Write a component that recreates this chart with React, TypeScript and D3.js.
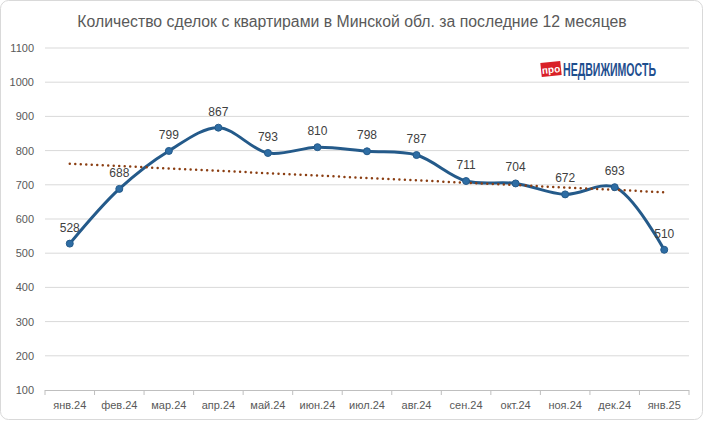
import * as d3 from "d3"

const months = [
  "янв.24", "фев.24", "мар.24", "апр.24", "май.24", "июн.24", "июл.24",
  "авг.24", "сен.24", "окт.24", "ноя.24", "дек.24", "янв.25",
]
const deals = [528, 688, 799, 867, 793, 810, 798, 787, 711, 704, 672, 693, 510]
const yTicks = [100, 200, 300, 400, 500, 600, 700, 800, 900, 1000, 1100]
const title = "Количество сделок с квартирами в Минской обл. за последние 12 месяцев"

const W = 704
const H = 421
const font = "'Liberation Sans', Arial, sans-serif"

export default function App() {
  const x = d3.scaleBand().domain(months).range([45, 689])
  const y = d3.scaleLinear().domain([100, 1100]).range([390, 48])
  const cx = (m: string) => x(m)! + x.bandwidth() / 2

  const pts: [number, number][] = deals.map((v, i) => [cx(months[i]), y(v)])
  const line = d3.line().curve(d3.curveCatmullRom.alpha(0.5))(pts)!

  // linear trend over the 13 points
  const n = deals.length
  const mx = (n + 1) / 2
  const my = d3.mean(deals)!
  const slope =
    d3.sum(deals, (v, i) => (i + 1 - mx) * (v - my)) /
    d3.sum(deals, (_, i) => (i + 1 - mx) ** 2)
  const tv = (i: number) => my + slope * (i + 1 - mx)

  return (
    <svg
      width={W}
      height={H}
      style={{ position: "absolute", left: 0, top: 0, background: "#fff" }}
    >
      <rect x={0.5} y={0.5} width={W - 2} height={H - 2} rx={8} fill="#fff" stroke="#d9d9d9" />

      <text x={352} y={27} textAnchor="middle" fontFamily={font} fontSize={15.8} fill="#595959">
        {title}
      </text>

      {/* logo */}
      <g transform="rotate(-6 551 69)">
        <rect x={541} y={62} width={20} height={14} fill="#d92027" />
        <text x={551} y={73} textAnchor="middle" fontFamily={font} fontSize={10} fontWeight={700} fill="#fff">
          про
        </text>
      </g>
      <g transform="translate(563 76) scale(1 1.25)">
        <text
          x={0}
          y={0}
          fontFamily="'Liberation Sans Narrow', 'Liberation Sans', sans-serif"
          fontSize={15}
          fontWeight={700}
          fill="#1f4f8f"
          textLength={93}
          lengthAdjust="spacingAndGlyphs"
        >
          НЕДВИЖИМОСТЬ
        </text>
      </g>

      {yTicks.map((t) => (
        <g key={t}>
          {t > 100 && <line x1={45} x2={689} y1={y(t)} y2={y(t)} stroke="#d9d9d9" />}
          <text x={34} y={y(t) + 4} textAnchor="end" fontFamily={font} fontSize={11} fill="#595959">
            {t}
          </text>
        </g>
      ))}

      <line x1={45} x2={689} y1={390.5} y2={390.5} stroke="#bfbfbf" />
      {months.map((m, i) => (
        <line key={"t" + m + i} x1={x(m)!} x2={x(m)!} y1={390} y2={395} stroke="#bfbfbf" />
      ))}
      <line x1={689} x2={689} y1={390} y2={395} stroke="#bfbfbf" />
      {months.map((m, i) => (
        <text key={"l" + i} x={cx(m)} y={409} textAnchor="middle" fontFamily={font} fontSize={11} fill="#595959">
          {m}
        </text>
      ))}

      <path d={line} fill="none" stroke="#245a8a" strokeWidth={3} strokeLinejoin="round" />

      <line
        x1={cx(months[0])}
        x2={cx(months[n - 1])}
        y1={y(tv(0))}
        y2={y(tv(n - 1))}
        stroke="#8b3e12"
        strokeWidth={2.5}
        strokeDasharray="0 5.5"
        strokeLinecap="round"
      />

      {pts.map(([px, py], i) => (
        <g key={"p" + i}>
          <circle cx={px} cy={py} r={3.5} fill="#2e6da4" stroke="#245a8a" strokeWidth={1} />
          <text x={px} y={py - 12} textAnchor="middle" fontFamily={font} fontSize={12} fill="#404040">
            {deals[i]}
          </text>
        </g>
      ))}
    </svg>
  )
}
